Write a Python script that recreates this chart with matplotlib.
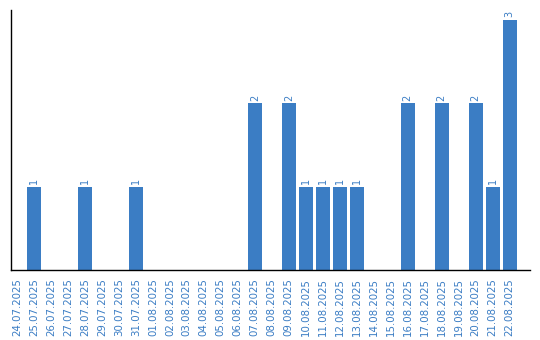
import matplotlib
matplotlib.use("Agg")
import matplotlib.pyplot as plt

dates = ["24.07.2025", "25.07.2025", "26.07.2025", "27.07.2025", "28.07.2025",
         "29.07.2025", "30.07.2025", "31.07.2025", "01.08.2025", "02.08.2025",
         "03.08.2025", "04.08.2025", "05.08.2025", "06.08.2025", "07.08.2025",
         "08.08.2025", "09.08.2025", "10.08.2025", "11.08.2025", "12.08.2025",
         "13.08.2025", "14.08.2025", "15.08.2025", "16.08.2025", "17.08.2025",
         "18.08.2025", "19.08.2025", "20.08.2025", "21.08.2025", "22.08.2025"]
counts = [0, 1, 0, 0, 1, 0, 0, 1, 0, 0, 0, 0, 0, 0, 2,
          0, 2, 1, 1, 1, 1, 0, 0, 2, 0, 2, 0, 2, 1, 3]

blue = "#3b7dc4"
fig = plt.figure(figsize=(5.4, 3.4), dpi=100)
ax = fig.add_axes([0.0204, 0.206, 0.9606, 0.7646])
x = list(range(len(dates)))
ax.bar(x, counts, width=0.82, color=blue)
for xi, v in zip(x, counts):
    if v > 0:
        ax.text(xi, v + 0.03, str(v), rotation=90, ha="center", va="bottom",
                fontsize=7, color=blue)
ax.set_xlim(-0.35, len(dates) - 1 + 1.18)
ax.set_ylim(0, 3.12)
ax.set_xticks(x)
ax.set_xticklabels(dates, rotation=90, fontsize=7.4, color=blue)
ax.tick_params(axis="x", length=0, pad=6)
ax.set_yticks([])
for s in ["top", "right"]:
    ax.spines[s].set_visible(False)
for s in ["left", "bottom"]:
    ax.spines[s].set_color("black")
    ax.spines[s].set_linewidth(1.0)
fig.savefig("out.png", dpi=100)
